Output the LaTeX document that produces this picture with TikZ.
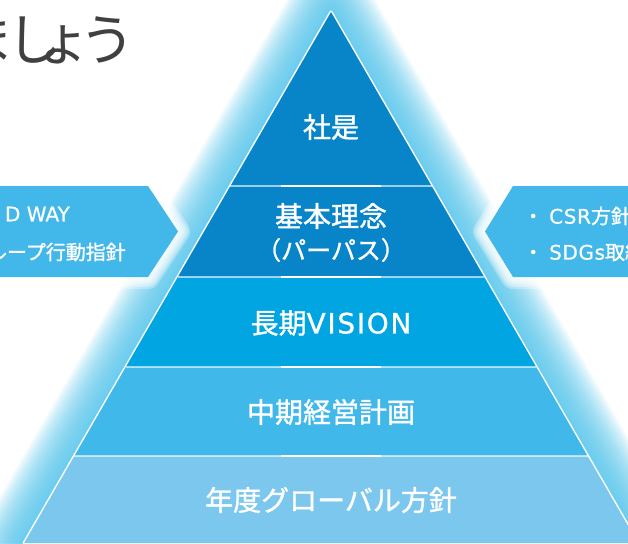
\documentclass[tikz,border=0pt]{standalone}
\usepackage{fontspec}
\newfontfamily\jp{Noto Sans CJK JP}[FakeBold=1.2]
\newfontfamily\jpt{Noto Sans CJK JP}
\newfontfamily\lat{DejaVu Sans}[FakeBold=0.8]
\usetikzlibrary{calc}
\definecolor{layA}{HTML}{0884C8}
\definecolor{layB}{HTML}{00A5E2}
\definecolor{layC}{HTML}{40B8EA}
\definecolor{layD}{HTML}{7CC7EE}
\definecolor{chev}{HTML}{42B7EA}
\definecolor{glowc}{HTML}{55C8EF}
\definecolor{titlec}{HTML}{404040}
\begin{document}
\begin{tikzpicture}[x=1pt,y=-1pt,
  lbl/.style={text=white,font=\jp\fontsize{28}{32}\selectfont,inner sep=0pt},
  sidelbl/.style={text=white,font=\jp\fontsize{20}{24}\selectfont,inner sep=0pt},
  divider/.style={white,line width=1.5pt,opacity=0.6},
  dividerc/.style={white,line width=1.5pt}]
\useasboundingbox (0,0) rectangle (628,543);
\clip (0,0) rectangle (628,543);
\fill[white] (0,0) rectangle (628,543);
% triangle corners
\coordinate (A) at (331,12);
\coordinate (BL) at (24.1,543);
\coordinate (BR) at (637.9,543);
\coordinate (L1) at (230.4,186); \coordinate (R1) at (431.6,186);
\coordinate (L2) at (177.8,277); \coordinate (R2) at (484.2,277);
\coordinate (L3) at (125.8,367); \coordinate (R3) at (536.2,367);
\coordinate (L4) at (74.4,456);  \coordinate (R4) at (587.6,456);
% glow
\foreach \w in {4,8,...,88}
  \draw[glowc,line width=\w pt,draw opacity=0.08,line join=round] (A)--(BL)--(BR)--cycle;
\draw[white,line width=3pt,line join=round] (A)--(BL)--(BR)--cycle;
% chevrons with white halo
\coordinate (CLa) at (-10,186); \coordinate (CLb) at (148,186); \coordinate (CLt) at (178,231.5);
\coordinate (CLc) at (148,277); \coordinate (CLd) at (-10,277);
\coordinate (CRa) at (640,186); \coordinate (CRb) at (513,186); \coordinate (CRt) at (485,231.5);
\coordinate (CRc) at (513,277); \coordinate (CRd) at (640,277);
\foreach \w in {4,8,...,24}{
  \draw[white,line width=\w pt,draw opacity=0.3,line join=round] (CLa)--(CLb)--(CLt)--(CLc)--(CLd)--cycle;
  \draw[white,line width=\w pt,draw opacity=0.3,line join=round] (CRa)--(CRb)--(CRt)--(CRc)--(CRd)--cycle;
}
\fill[chev] (CLa)--(CLb)--(CLt)--(CLc)--(CLd)--cycle;
\fill[chev] (CRa)--(CRb)--(CRt)--(CRc)--(CRd)--cycle;
% layers
\fill[layA] (A)--(R2)--(L2)--cycle;
\fill[layB] (L2)--(R2)--(R3)--(L3)--cycle;
\fill[layC] (L3)--(R3)--(R4)--(L4)--cycle;
\fill[layD] (L4)--(R4)--(BR)--(BL)--cycle;
% dividers
\draw[divider] (L1)--(R1); \draw[dividerc] (281,186)--(381,186);
\draw[divider] (L2)--(R2); \draw[dividerc] (281,277)--(381,277);
\draw[divider] (L3)--(R3); \draw[dividerc] (281,367)--(381,367);
\draw[divider] (L4)--(R4); \draw[dividerc] (281,456)--(381,456);
% labels
\node[lbl] (t1) at (331,127) {社是};
\node[lbl] (t2) at (331,216) {基本理念};
\node[lbl,font=\jp\fontsize{25}{30}\selectfont] (t2b) at (331,250) {（パーパス）};
\node[lbl] (t3) at (331,323) {長期{\lat\addfontfeature{LetterSpace=6}VISION}};
\node[lbl] (t4) at (331,412) {中期経営計画};
\node[lbl] (t5) at (331,500) {年度グローバル方針};
% side texts
\node[sidelbl,anchor=east] (s1) at (70,214) {{\lat D WAY}};
\node[sidelbl,anchor=east] (s2) at (126,252) {グループ行動指針};
\node[sidelbl,anchor=west] (s3) at (523,216) {・\hspace{6pt}{\lat\addfontfeature{LetterSpace=3}CSR}方針};
\node[sidelbl,anchor=west] (s4) at (523,252) {・\hspace{6pt}{\lat\addfontfeature{LetterSpace=3}SDGs}取組};
% title
\node[text=titlec,font=\jpt\fontsize{56}{62}\selectfont,inner sep=0pt,anchor=east] (title) at (136,40) {ま\kern-8ptし\kern-27ptょ\kern-12ptう};
\end{tikzpicture}
\end{document}
